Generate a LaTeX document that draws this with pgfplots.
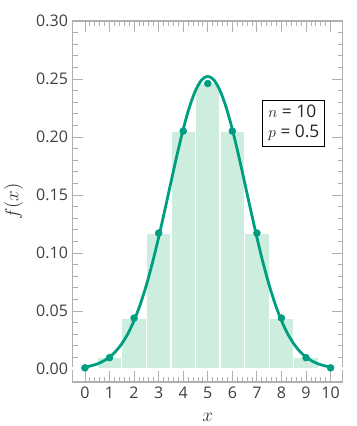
\documentclass[border=0pt]{standalone}
\usepackage{fontspec}
\setmainfont{Open Sans}
\usepackage{pgfplots}
\pgfplotsset{compat=1.18}
\definecolor{curve}{RGB}{0,158,128}
\definecolor{barc}{RGB}{205,237,223}
\definecolor{axc}{RGB}{176,176,176}
\begin{document}
\begin{tikzpicture}
\begin{axis}[
 scale only axis, width=202.7pt, height=270.8pt,
 xmin=-0.5, xmax=10.5, ymin=-0.0112, ymax=0.30,
 xtick={0,1,...,10}, ytick={0,0.05,0.10,0.15,0.20,0.25,0.30},
 minor x tick num=4, minor y tick num=4,
 tick align=inside,
 major tick length=8pt, minor tick length=4pt,
 axis line style={axc, line width=0.8pt},
 every tick/.style={axc, line width=0.6pt},
 /pgf/number format/assume math mode=true,
 tick label style={font=\fontsize{12}{14}\selectfont, text=black!75},
 yticklabel style={/pgf/number format/.cd, fixed, fixed zerofill, precision=2, assume math mode=true},
 xlabel={$x$}, ylabel={$f(x)$},
 xlabel shift=4pt, ylabel shift=3pt,
 label style={font=\fontsize{14}{16}\selectfont, text=black!80},
 clip=false,
]
\addplot[ybar, bar width=1, bar shift=0pt, fill=barc, draw=white, line width=1pt] coordinates {
(0,0.000977) (1,0.009766) (2,0.043945) (3,0.117188) (4,0.205078) (5,0.246094)
(6,0.205078) (7,0.117188) (8,0.043945) (9,0.009766) (10,0.000977)};
\addplot[curve, line width=2.1pt, smooth] coordinates {
(0,0.00170) (0.25,0.00277) (0.5,0.00440) (0.75,0.00681) (1,0.01028) (1.25,0.01515)
(1.5,0.0218) (1.75,0.0305) (2,0.0417) (2.25,0.0556) (2.5,0.0723) (2.75,0.0917)
(3,0.1134) (3.25,0.1368) (3.5,0.1609) (3.75,0.1846) (4,0.2066) (4.25,0.2255)
(4.5,0.2400) (4.75,0.2492) (5,0.2523) (5.25,0.2492) (5.5,0.2400) (5.75,0.2255)
(6,0.2066) (6.25,0.1846) (6.5,0.1609) (6.75,0.1368) (7,0.1134) (7.25,0.0917)
(7.5,0.0723) (7.75,0.0556) (8,0.0417) (8.25,0.0305) (8.5,0.0218) (8.75,0.01515)
(9,0.01028) (9.25,0.00681) (9.5,0.00440) (9.75,0.00277) (10,0.00170)};
\addplot[only marks, mark=*, mark size=2.6pt, curve] coordinates {
(0,0.000977) (1,0.009766) (2,0.043945) (3,0.117188) (4,0.205078) (5,0.246094)
(6,0.205078) (7,0.117188) (8,0.043945) (9,0.009766) (10,0.000977)};
\node[draw=black, line width=0.6pt, align=left, fill=white, inner sep=4pt, font=\fontsize{13}{15}\selectfont, text=black!85] at (axis cs:8.5,0.212) {$n$ = 10\\$p$ = 0.5};
\coordinate (bl) at (rel axis cs:0,0);
\coordinate (tr) at (rel axis cs:1,1);
\end{axis}
\pgfresetboundingbox
\path[use as bounding box] ([xshift=-54.5pt,yshift=-33pt]bl) rectangle ([xshift=10.5pt,yshift=15.75pt]tr);
\end{tikzpicture}
\end{document}
